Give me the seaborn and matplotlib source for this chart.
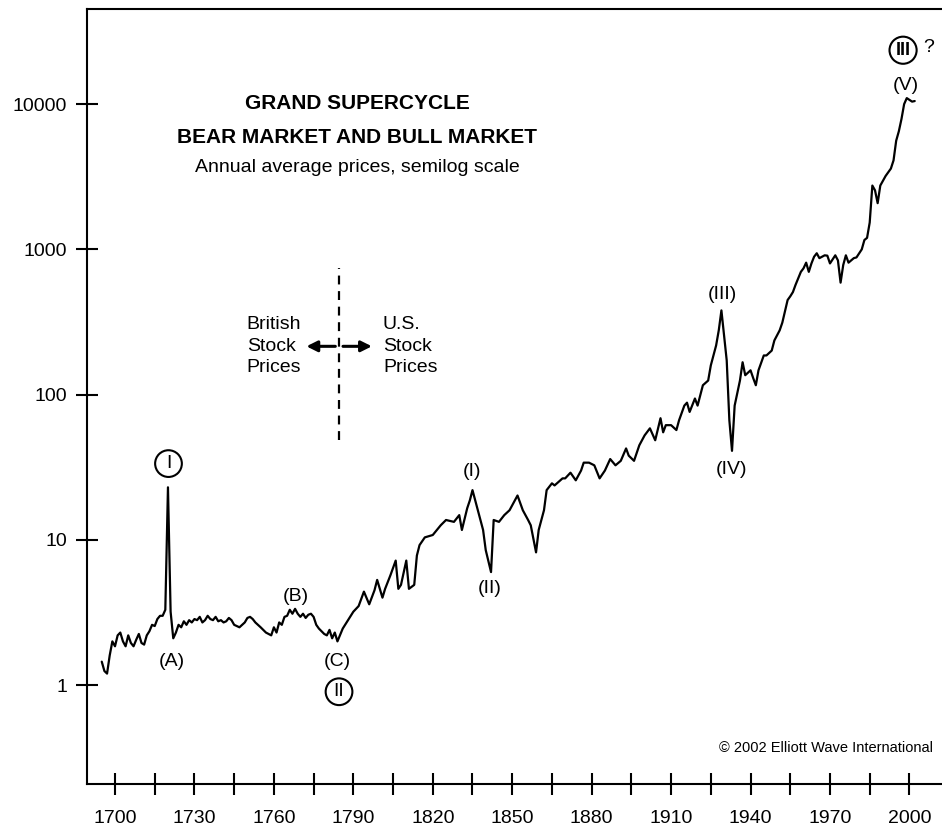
import matplotlib
matplotlib.use("Agg")
import matplotlib.pyplot as plt
import seaborn as sns

# annual average prices (British to 1784, U.S. after)
years = [1695, 1696, 1697, 1698, 1699, 1700, 1701, 1702, 1703, 1704,
         1705, 1706, 1707, 1708, 1709, 1710, 1711, 1712, 1713, 1714,
         1715, 1716, 1717, 1718, 1719, 1720, 1721, 1722, 1723, 1724,
         1725, 1726, 1727, 1728, 1729, 1730, 1731, 1732, 1733, 1734,
         1735, 1736, 1737, 1738, 1739, 1740, 1741, 1742, 1743, 1744,
         1745, 1746, 1747, 1748, 1749, 1750, 1751, 1752, 1753, 1754,
         1755, 1756, 1757, 1758, 1759, 1760, 1761, 1762, 1763, 1764,
         1765, 1766, 1767, 1768, 1769, 1770, 1771, 1772, 1773, 1774,
         1775, 1776, 1777, 1778, 1779, 1780, 1781, 1782, 1783, 1784,
         1786, 1788, 1790, 1792, 1794, 1796, 1798, 1799, 1801, 1802,
         1804, 1806, 1807, 1808, 1810, 1811, 1813, 1814, 1815, 1817,
         1820, 1823, 1825, 1828, 1830, 1831, 1833, 1834, 1835, 1837,
         1839, 1840, 1842, 1843, 1845, 1847, 1849, 1851, 1852, 1854,
         1856, 1857, 1859, 1860, 1862, 1863, 1865, 1866, 1869, 1870,
         1872, 1874, 1876, 1877, 1879, 1881, 1883, 1885, 1887, 1889,
         1891, 1893, 1894, 1896, 1898, 1900, 1902, 1904, 1906, 1907,
         1908, 1910, 1912, 1913, 1915, 1916, 1917, 1919, 1920, 1922,
         1924, 1925, 1927, 1928, 1929, 1931, 1932, 1933, 1934, 1936,
         1937, 1938, 1940, 1941, 1942, 1943, 1945, 1946, 1948, 1949,
         1951, 1952, 1954, 1955, 1956, 1957, 1959, 1960, 1961, 1962,
         1963, 1964, 1965, 1966, 1968, 1969, 1970, 1972, 1973, 1974,
         1975, 1976, 1977, 1979, 1980, 1982, 1983, 1984, 1985, 1986,
         1987, 1988, 1989, 1991, 1993, 1994, 1995, 1996, 1997, 1998,
         1999, 2000, 2001, 2002]
prices = [1.45, 1.25, 1.2, 1.6, 2.0, 1.85, 2.2, 2.3, 2.0, 1.85,
          2.2, 1.95, 1.85, 2.05, 2.25, 1.95, 1.9, 2.2, 2.35, 2.6,
          2.55, 2.85, 3.0, 3.0, 3.3, 23.0, 3.2, 2.1, 2.3, 2.6,
          2.5, 2.75, 2.6, 2.8, 2.7, 2.85, 2.8, 2.95, 2.7, 2.8,
          3.0, 2.85, 2.8, 2.95, 2.75, 2.8, 2.7, 2.75, 2.9, 2.8,
          2.6, 2.55, 2.5, 2.6, 2.7, 2.9, 2.95, 2.85, 2.7, 2.6,
          2.5, 2.4, 2.3, 2.25, 2.2, 2.5, 2.3, 2.7, 2.6, 2.95,
          3.0, 3.3, 3.1, 3.35, 3.1, 2.95, 3.1, 2.9, 3.05, 3.1,
          2.95, 2.6, 2.45, 2.35, 2.25, 2.2, 2.4, 2.1, 2.3, 2.0,
          2.45, 2.8, 3.2, 3.5, 4.4, 3.6, 4.5, 5.3, 4.0, 4.6,
          5.7, 7.2, 4.6, 4.9, 7.2, 4.6, 4.9, 7.8, 9.2, 10.4,
          10.8, 12.6, 13.7, 13.3, 14.8, 11.7, 16.5, 18.7, 22.0, 16.0,
          11.7, 8.5, 6.0, 13.7, 13.3, 14.8, 16.0, 18.7, 20.2, 16.0,
          13.7, 12.6, 8.2, 11.7, 16.0, 22.0, 24.5, 23.7, 26.5, 26.5,
          29.0, 25.7, 30.0, 34.0, 34.0, 32.6, 26.5, 30.0, 36.0, 32.6,
          35.0, 42.6, 38.0, 35.0, 44.8, 52.4, 58.6, 48.5, 68.8, 55.0,
          61.6, 61.6, 57.0, 66.5, 84.0, 88.0, 76.0, 94.0, 84.0, 116.0,
          125.0, 159.0, 218.0, 277.0, 380.0, 172.0, 66.5, 41.0, 84.0, 125.0,
          167.0, 136.0, 147.0, 130.0, 116.0, 147.0, 186.0, 186.0, 201.0, 236.0,
          277.0, 313.0, 448.0, 475.0, 508.0, 570.0, 700.0, 740.0, 810.0, 700.0,
          800.0, 890.0, 940.0, 870.0, 910.0, 905.0, 800.0, 910.0, 840.0, 590.0,
          780.0, 910.0, 810.0, 870.0, 880.0, 1000.0, 1160.0, 1200.0, 1530.0, 2750.0,
          2550.0, 2080.0, 2750.0, 3200.0, 3600.0, 4100.0, 5600.0, 6500.0, 7900.0, 10000.0,
          11000.0, 10700.0, 10400.0, 10500.0]

xtick_years = list(range(1700, 2001, 15))
xtick_labels = [str(y) if (y - 1700) % 30 == 0 else "" for y in xtick_years]
ytick_values = [1, 10, 100, 1000, 10000]
ytick_labels = ["1", "10", "100", "1000", "10000"]

sns.set_style("white")
plt.rcParams["font.family"] = ["Liberation Sans", "DejaVu Sans"]
plt.rcParams["text.color"] = "black"

fig = plt.figure(figsize=(9.42, 8.27), dpi=100)
ax = fig.add_axes([0.092, 0.052, 0.908, 0.937])

sns.lineplot(x=years, y=prices, ax=ax, color="black", linewidth=1.6)
ax.set_yscale("log")
ax.set_xlim(1689.3, 2012.3)
ax.set_ylim(0.2085, 45100)

ax.set_xticks(xtick_years)
ax.set_xticklabels(xtick_labels)
ax.set_yticks(ytick_values)
ax.set_yticklabels(ytick_labels)
ax.minorticks_off()
ax.tick_params(axis="both", which="major", bottom=True, left=True,
               direction="inout", length=16, width=1.5,
               labelsize=14, color="black", labelcolor="black")
ax.tick_params(axis="x", pad=10.5)
ax.tick_params(axis="y", pad=6)
ax.set_xlabel("")
ax.set_ylabel("")
for side in ["left", "bottom", "top"]:
    ax.spines[side].set_color("black")
    ax.spines[side].set_linewidth(1.5)
ax.spines["right"].set_visible(False)

# titles
fig.text(0.379, 0.875, "GRAND SUPERCYCLE", ha="center", va="center",
         fontsize=15, fontweight="bold")
fig.text(0.379, 0.834, "BEAR MARKET AND BULL MARKET", ha="center", va="center",
         fontsize=15, fontweight="bold")
fig.text(0.379, 0.798, "Annual average prices, semilog scale", ha="center",
         va="center", fontsize=14)

# wave labels
txt = dict(ha="center", va="center", fontsize=14)
ax.text(1721.5, 1.45, "(A)", **txt)
ax.text(1768.4, 4.1, "(B)", **txt)
ax.text(1784, 1.46, "(C)", **txt)
ax.text(1835, 29.5, "(I)", **txt)
ax.text(1841.6, 4.6, "(II)", **txt)
ax.text(1929.2, 490, "(III)", **txt)
ax.text(1932.8, 30.5, "(IV)", **txt)
ax.text(1998.6, 13500, "(V)", **txt)

# circled degree labels
circ = dict(boxstyle="circle,pad=0.25", fc="white", ec="black", lw=1.5)
ax.text(1720.2, 33.5, "I", ha="center", va="center", fontsize=14,
        bbox=circ)
ax.text(1784.6, 0.9, "II", ha="center", va="center", fontsize=14,
        bbox=circ)
ax.text(1997.6, 23500, "III", ha="center", va="center", fontsize=13,
        fontweight="bold",
        bbox=dict(boxstyle="circle,pad=0.28", fc="white", ec="black", lw=1.5))
ax.text(2007.2, 24500, "?", ha="center", va="center", fontsize=14)

# British / U.S. divider
ax.vlines(1784.6, 48.5, 741, colors="black", linestyles=(0, (4, 3)),
          linewidth=1.6)
ax.annotate("", xy=(1772.3, 215), xytext=(1783.2, 215),
            arrowprops=dict(arrowstyle="-|>", color="black", lw=2.2,
                            mutation_scale=16, shrinkA=0, shrinkB=0))
ax.annotate("", xy=(1797.0, 215), xytext=(1786.1, 215),
            arrowprops=dict(arrowstyle="-|>", color="black", lw=2.2,
                            mutation_scale=16, shrinkA=0, shrinkB=0))
ax.text(1749.8, 215, "British\nStock\nPrices", ha="left", va="center",
        fontsize=14, linespacing=1.35)
ax.text(1801.2, 215, "U.S.\nStock\nPrices", ha="left", va="center",
        fontsize=14, linespacing=1.35)

ax.text(0.99, 0.046, "\u00a9 2002 Elliott Wave International",
        transform=ax.transAxes, ha="right", va="center", fontsize=10.5)

fig.savefig("out.png", dpi=100)
